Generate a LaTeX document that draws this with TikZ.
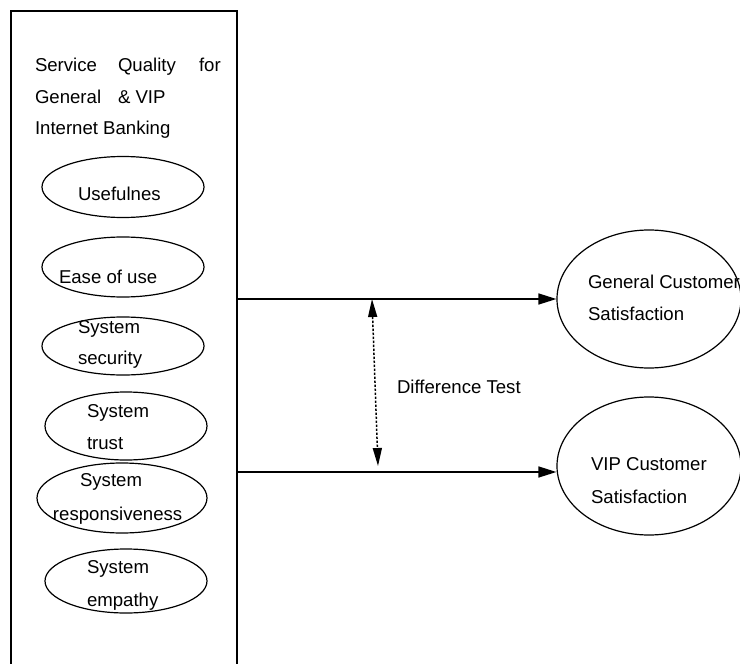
\documentclass[tikz,border=0pt]{standalone}
\usepackage{fontspec}
\setmainfont{Liberation Sans}
\usetikzlibrary{arrows.meta,shapes.geometric}
\begin{document}
\begin{tikzpicture}[x=0.5pt,y=-0.5pt,
  every node/.style={font=\fontsize{9.3}{11}\selectfont},
  txt/.style={anchor=base west,inner sep=0pt,outer sep=0pt},
  oval/.style={draw,ellipse,line width=0.6pt,inner sep=0pt},
  frame/.style={draw,rectangle,line width=0.7pt,inner sep=0pt},
  link/.style={line width=0.75pt,-{Triangle[length=9pt,width=5.5pt]}},
  dtest/.style={line width=0.75pt,dash pattern=on 1.2pt off 0.8pt,{Triangle[length=9pt,width=4.5pt]}-{Triangle[length=9pt,width=4.5pt]}}]
\clip (0,0) rectangle (740,664);
% frame
\node[frame,minimum width=113pt,minimum height=335pt] (sq) at (124,346) {};
% title
\node[txt] (t1) at (35,71.5) {Service};
\node[txt] (t2) at (118,71.5) {Quality};
\node[txt] (t3) at (199,71.5) {for};
\node[txt] (t4) at (35,103) {General};
\node[txt] (t5) at (118,103) {\& VIP};
\node[txt] (t6) at (35,134.5) {Internet Banking};
% ovals
\node[oval,minimum width=81pt,minimum height=30.5pt] (e1) at (123,187) {};
\node[oval,minimum width=81pt,minimum height=30pt] (e2) at (123,267) {};
\node[oval,minimum width=81pt,minimum height=29pt] (e3) at (123,346) {};
\node[oval,minimum width=81pt,minimum height=34pt] (e4) at (126,426) {};
\node[oval,minimum width=85pt,minimum height=35pt] (e5) at (122,498) {};
\node[oval,minimum width=81pt,minimum height=32pt] (e6) at (126,581) {};
\node[txt] (l1) at (78,200.5) {Usefulnes};
\node[txt] (l2) at (59,283) {Ease of use};
\node[txt] (l3a) at (78,333) {System};
\node[txt] (l3b) at (78,364.5) {security};
\node[txt] (l4a) at (87,417) {System};
\node[txt] (l4b) at (87,449) {trust};
\node[txt] (l5a) at (80,486) {System};
\node[txt] (l5b) at (53,520) {responsiveness};
\node[txt] (l6a) at (87,573) {System};
\node[txt] (l6b) at (87,606) {empathy};
% outcome ovals
\node[oval,minimum width=92pt,minimum height=69pt] (gen) at (649,299) {};
\node[oval,minimum width=92pt,minimum height=69pt] (vip) at (649,466) {};
\node[txt] (g1) at (588,288) {General Customer};
\node[txt] (g2) at (588,320) {Satisfaction};
\node[txt] (v1) at (591,470) {VIP Customer};
\node[txt] (v2) at (591,503) {Satisfaction};
% connectors
\coordinate (a1) at (237,299);
\coordinate (a2) at (237,472);
\draw[link] (a1) -- (gen.west);
\draw[link] (a2) -- (a2 -| vip.west);
\coordinate (d1) at (372,299);
\coordinate (d2) at (378,466);
\draw[dtest] (d1) -- (d2);
\node[txt] (dt) at (397,393) {Difference Test};
\end{tikzpicture}
\end{document}
